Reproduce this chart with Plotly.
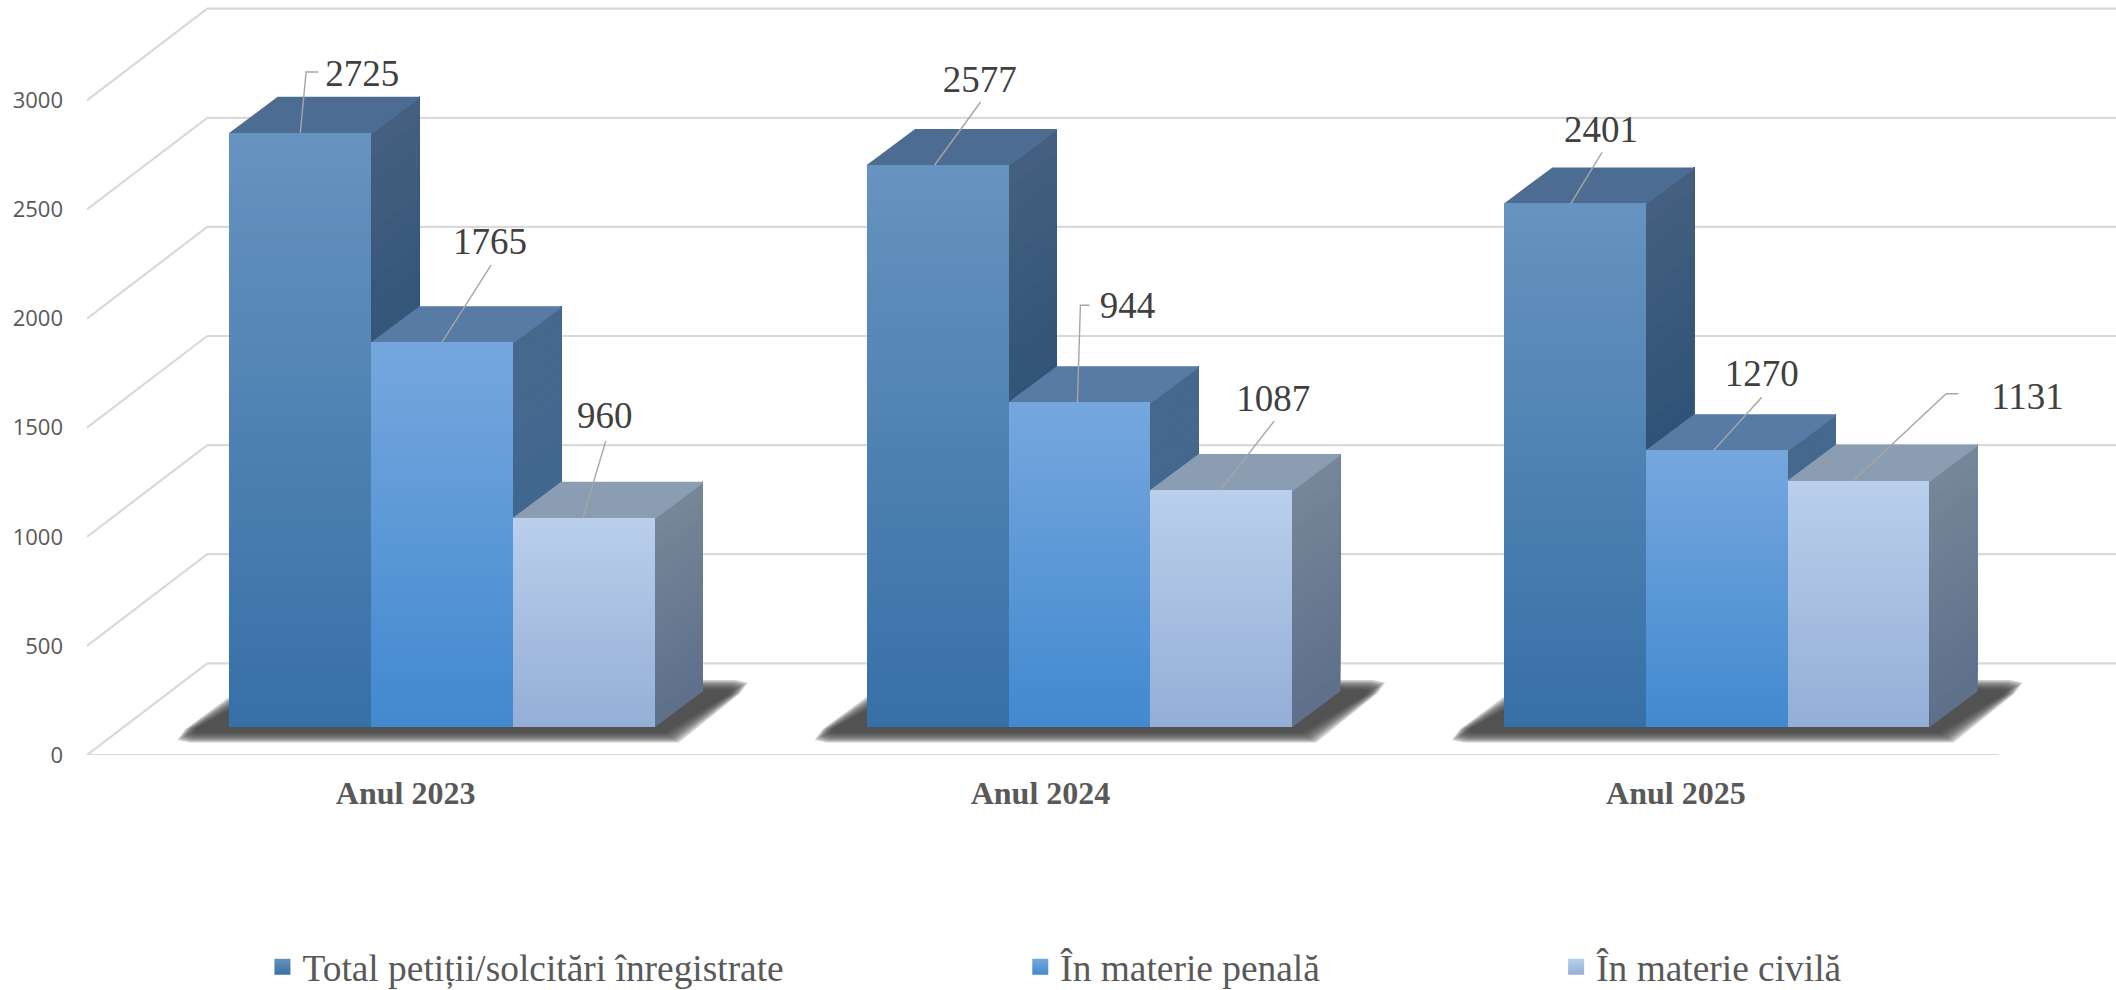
import plotly.graph_objects as go

categories = ["Anul 2023", "Anul 2024", "Anul 2025"]
series_names = ["Total petiții/solcitări înregistrate", "În materie penală", "În materie civilă"]
total_values = [2725, 2577, 2401]
penal_values = [1765, 1490, 1270]
civil_values = [960, 1087, 1131]
total_labels = ["2725", "2577", "2401"]
penal_labels = ["1765", "944", "1270"]
civil_labels = ["960", "1087", "1131"]
y_ticks = [0, 500, 1000, 1500, 2000, 2500, 3000]

# scale: pixels of the 2116x990 canvas
PX_L, PX_R, PX_FLOOR = 86.5, 2116, 755
PX_X = 637.5
PX_Y = 0.2182
dx = lambda p: p / PX_X
dy = lambda p: p / PX_Y

FLOOR_DX, FLOOR_DY = dx(120.3), dy(91.7)
BASE = dy(27.7)
PLANE_DX = dx(36.4)
BAR_W = dx(141.8)
BAR_DX, BAR_DY = dx(48.3), dy(36)

front_colors = [("#6793bf", "#3670a7"), ("#76a7de", "#4189cf"), ("#b9cfec", "#95aed6")]
side_colors = [("#45607f", "#2d5276"), ("#46688d", "#3c6690"), ("#778799", "#5d6f8a")]
side_ramp = [0.5, 1.0, 1.0]
top_colors = ["#4c6d91", "#577ba5", "#8b9db3"]
GRID = "#d9d9d9"
TEXT = "#595959"

# leader geometry per category/series (pixels from the leader's foot on the bar's top edge)
leader_foot = [
    [0, 0, -1],
    [-3, -2, -1],
    [-4, -3, -5],
]
leader_pts = [
    [[(5.8, -60.7), (17.9, -60.7)], [(49, -77)], [(23, -77)]],
    [[(46, -63)], [(3, -97), (12, -97)], [(54, -69)]],
    [[(31, -51)], [(48, -53)], [(92.6, -86.7), (105, -86.7)]],
]
label_off = [
    [(62, -55.5), (48, -97.5), (22, -99.5)],
    [(45, -82.5), (50, -93.5), (53, -88.5)],
    [(30, -70.5), (48, -73.5), (174, -81.2)],
]


def hexrgb(h):
    return tuple(int(h[i:i + 2], 16) for i in (1, 3, 5))


def mix(a, b, t):
    ca, cb = hexrgb(a), hexrgb(b)
    return "rgb(%d,%d,%d)" % tuple(round(ca[k] + (cb[k] - ca[k]) * t) for k in range(3))


series = [total_values, penal_values, civil_values]
labels = [total_labels, penal_labels, civil_labels]
N = 48
N_SIDE = 24
fig = go.Figure()
shapes = []


def poly(xs, ys, color, opacity=1.0):
    path = "M" + "L".join(f"{x:.5f},{y:.3f}" for x, y in zip(xs, ys)) + "Z"
    shapes.append(dict(type="path", path=path, xref="x", yref="y", fillcolor=color,
                       line=dict(width=0), layer="below", opacity=opacity))


# back wall and side gridlines
x0, x_end = -0.5, 2.5
right_edge = -0.5 + (PX_R - PX_L) / PX_X
for v in y_ticks:
    pts_x = [x0, x0 + FLOOR_DX, right_edge]
    pts_y = [v, v + FLOOR_DY, v + FLOOR_DY]
    path = "M" + "L".join(f"{x:.5f},{y:.3f}" for x, y in zip(pts_x, pts_y))
    shapes.append(dict(type="path", path=path, xref="x", yref="y",
                       line=dict(color=GRID, width=2.2), layer="below"))
shapes.append(dict(type="line", x0=x0, x1=x_end, y0=0, y1=0, xref="x", yref="y",
                   line=dict(color=GRID, width=2.2), layer="below"))

# soft floor shadows: a parallelogram with its acute corners rounded off
for i in range(len(categories)):
    left = i + PLANE_DX - 1.5 * BAR_W
    right = i + PLANE_DX + 1.5 * BAR_W
    for e in [9, 7, 5, 3, 1, -1, -3, -5]:
        ev = e * 0.7
        c = 16 + e * 1.2
        yb, yt = -9 - ev, 41 + ev
        xbl, xbr, xtr, xtl = -47 - e * 1.6, 15 + e, 88 + e * 1.6, 32 - e
        px_pts = [
            (left, xbl + 0.8 * c, yb), (right, xbr, yb),
            (right, xtr - 0.65 * c, yt - 0.5 * c), (right, xtr - 0.35 * c, yt - 0.1 * c),
            (right, xtr - 0.8 * c, yt), (left, xtl, yt),
            (left, xbl + 0.65 * c, yb + 0.5 * c), (left, xbl + 0.35 * c, yb + 0.1 * c),
        ]
        xs = [o + dx(p) for o, p, _ in px_pts]
        ys = [BASE + dy(q) for _, _, q in px_pts]
        poly(xs, ys, "#404040", 0.25)

# depth faces, painted back to front
for i in range(len(categories)):
    for j, vals in enumerate(series):
        xl = i + PLANE_DX + (j - 1.5) * BAR_W
        xr = xl + BAR_W
        top = BASE + vals[i]
        for k in range(N_SIDE):
            a = BASE + vals[i] * k / N_SIDE
            t = (k + 0.5) / N_SIDE
            c = mix(side_colors[j][0], side_colors[j][1], min(1.0, (1 - t) / side_ramp[j]))
            poly([xr, xr + BAR_DX, xr + BAR_DX, xr],
                 [a, a + BAR_DY, top + BAR_DY, top], c)
        low = top - dy(1.5)
        poly([xl, xr, xr + BAR_DX, xr + BAR_DX, xl + BAR_DX, xl],
             [low, low, top + BAR_DY - dy(1.5), top + BAR_DY, top + BAR_DY, top], top_colors[j])

# front faces
for j, vals in enumerate(series):
    centres = [i + PLANE_DX + (j - 1) * BAR_W for i in range(len(categories))]
    fig.add_trace(go.Bar(x=centres, y=vals, base=[BASE] * 3, width=BAR_W, name=series_names[j],
                         marker=dict(color=front_colors[j][1], line=dict(width=0)),
                         showlegend=False, hoverinfo="skip"))
    bx, bb, bh, bc = [], [], [], []
    for c, v in zip(centres, vals):
        for k in range(N):
            bx.append(c)
            bb.append(BASE + v * k / N)
            bh.append(v * (N - k) / N)
            bc.append(mix(front_colors[j][1], front_colors[j][0], (k + 0.5) / N))
    fig.add_trace(go.Bar(x=bx, y=bh, base=bb, width=BAR_W, marker=dict(color=bc, line=dict(width=0)),
                         showlegend=False, hoverinfo="skip"))

# leaders and value labels
for j, vals in enumerate(series):
    for i, v in enumerate(vals):
        cx = i + PLANE_DX + (j - 1) * BAR_W + dx(leader_foot[i][j])
        top = BASE + v
        xs = [cx] + [cx + dx(p[0]) for p in leader_pts[i][j]]
        ys = [top] + [top - dy(p[1]) for p in leader_pts[i][j]]
        fig.add_trace(go.Scatter(x=xs, y=ys, mode="lines", line=dict(color="#a6a6a6", width=1.4),
                                 showlegend=False, hoverinfo="skip"))
        ox, oy = label_off[i][j]
        fig.add_trace(go.Scatter(x=[cx + dx(ox)], y=[top - dy(oy)], mode="text", text=[labels[j][i]],
                                 textposition="middle center", cliponaxis=False,
                                 textfont=dict(family="Liberation Serif", size=37, color="#404040"),
                                 showlegend=False, hoverinfo="skip"))

# legend entries
legend_px = [262, 1020, 1556]
for j, name in enumerate(series_names):
    key = "legend" if j == 0 else f"legend{j + 1}"
    fig.add_trace(go.Scatter(x=[None], y=[None], mode="markers", name=name, legend=key,
                             marker=dict(symbol="square", size=20, color=front_colors[j][0],
                                         gradient=dict(type="vertical", color=front_colors[j][1]))))

layout_legends = {}
for j, px in enumerate(legend_px):
    key = "legend" if j == 0 else f"legend{j + 1}"
    layout_legends[key] = dict(x=(px - PX_L) / (PX_R - PX_L), xanchor="left",
                               y=(PX_FLOOR - 967) / PX_FLOOR, yanchor="middle",
                               bgcolor="rgba(0,0,0,0)", borderwidth=0, itemclick=False,
                               font=dict(family="Liberation Serif", size=37.4, color=TEXT))

fig.update_layout(
    width=2116, height=990, autosize=False,
    margin=dict(l=PX_L, r=0, t=0, b=990 - PX_FLOOR, pad=0, autoexpand=False),
    plot_bgcolor="white", paper_bgcolor="white",
    barmode="overlay", bargap=0,
    shapes=shapes,
    xaxis=dict(range=[-0.5, right_edge], tickmode="array", tickvals=[0, 0.996, 1.993],
               ticktext=[f"<b>{c}</b>" for c in categories], ticks="", showgrid=False,
               zeroline=False, showline=False, ticklabelstandoff=16,
               tickfont=dict(family="Liberation Serif", size=32, color=TEXT)),
    yaxis=dict(range=[0, PX_FLOOR / PX_Y], tickmode="array", tickvals=y_ticks, ticks="",
               showgrid=False, zeroline=False, showline=False, ticklabelstandoff=23,
               tickfont=dict(family="Open Sans", size=22, color=TEXT)),
    **layout_legends,
)
fig.write_html("out.html", config={"displayModeBar": False},
               post_script="document.body.style.margin='0';")
